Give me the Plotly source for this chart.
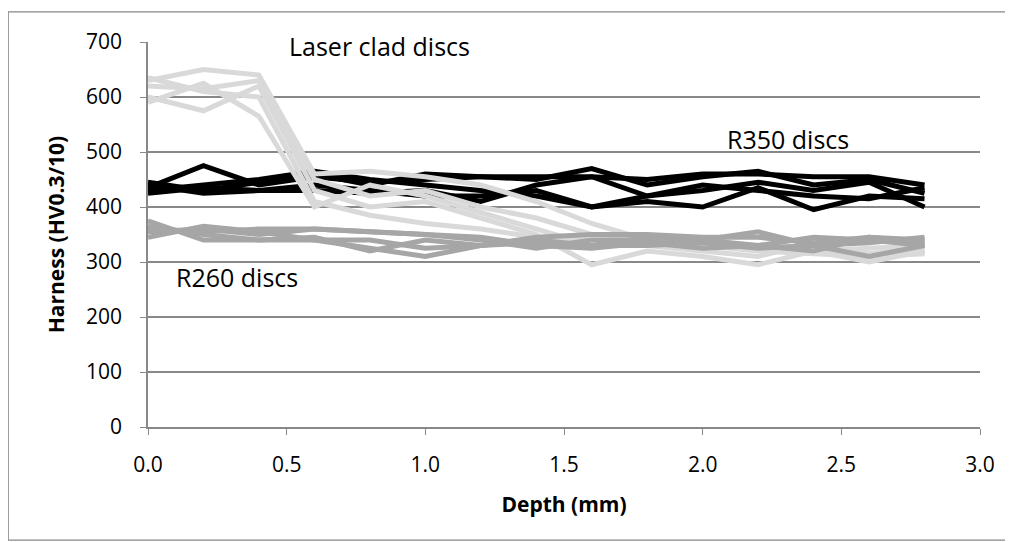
import plotly.graph_objects as go

depth = [0.0, 0.2, 0.4, 0.6, 0.8, 1.0, 1.2, 1.4, 1.6, 1.8, 2.0, 2.2, 2.4, 2.6, 2.8]

r350_1 = [445, 430, 445, 460, 440, 460, 455, 450, 470, 440, 455, 465, 440, 450, 425]
r350_2 = [435, 475, 440, 455, 445, 450, 455, 455, 455, 450, 460, 460, 455, 455, 440]
r350_3 = [430, 440, 450, 465, 450, 440, 430, 420, 400, 410, 400, 435, 395, 420, 415]
r350_4 = [440, 425, 430, 430, 425, 430, 410, 440, 455, 420, 430, 445, 430, 445, 400]
r350_5 = [425, 435, 430, 440, 430, 420, 420, 430, 400, 420, 440, 430, 420, 415, 435]

laser_1 = [630, 650, 640, 460, 465, 455, 440, 410, 370, 340, 330, 320, 315, 310, 320]
laser_2 = [620, 615, 630, 450, 420, 430, 400, 380, 350, 345, 335, 330, 320, 325, 330]
laser_3 = [600, 575, 620, 430, 400, 410, 380, 350, 295, 320, 310, 295, 320, 300, 320]
laser_4 = [635, 610, 600, 410, 385, 370, 360, 345, 340, 335, 330, 325, 330, 315, 325]
laser_5 = [590, 625, 565, 400, 440, 420, 390, 360, 330, 330, 320, 310, 335, 310, 315]

r260_1 = [375, 340, 340, 345, 320, 340, 330, 340, 330, 345, 340, 355, 330, 335, 345]
r260_2 = [355, 360, 350, 360, 355, 350, 340, 325, 340, 340, 340, 330, 345, 340, 330]
r260_3 = [345, 365, 355, 340, 325, 310, 330, 345, 350, 350, 345, 345, 335, 345, 340]
r260_4 = [365, 350, 340, 340, 340, 325, 330, 335, 330, 330, 335, 325, 330, 310, 330]
r260_5 = [360, 355, 360, 360, 355, 350, 345, 330, 325, 335, 325, 330, 320, 345, 335]

x_ticks = [0, 0.5, 1.0, 1.5, 2.0, 2.5, 3.0]
x_tick_labels = ["0.0", "0.5", "1.0", "1.5", "2.0", "2.5", "3.0"]
y_ticks = [0, 100, 200, 300, 400, 500, 600, 700]

groups = [
    ([r350_1, r350_2, r350_3, r350_4, r350_5], "#000000"),
    ([laser_1, laser_2, laser_3, laser_4, laser_5], "#D9D9D9"),
    ([r260_1, r260_2, r260_3, r260_4, r260_5], "#A6A6A6"),
]

FONT = "Open Sans"
fig = go.Figure()
for series, color in groups:
    for s in series:
        fig.add_trace(go.Scatter(x=depth, y=s, mode="lines",
                                 line=dict(color=color, width=5),
                                 hoverinfo="skip", showlegend=False))

fig.update_layout(
    width=1005, height=534,
    margin=dict(l=140, r=33, t=34, b=115),
    paper_bgcolor="white", plot_bgcolor="white",
    font=dict(family=FONT, size=21, color="black"),
    showlegend=False,
    xaxis=dict(range=[0, 3.0], tickvals=x_ticks, ticktext=x_tick_labels,
               showgrid=False, zeroline=False, showline=True, linecolor="#888888",
               linewidth=1.5, ticks="outside", ticklen=6, tickcolor="#888888",
               ticklabelstandoff=12,
               title=dict(text="<b>Depth (mm)</b>", font=dict(size=21), standoff=20)),
    yaxis=dict(range=[0, 700], tickvals=y_ticks,
               showgrid=True, gridcolor="#888888", gridwidth=1.5, zeroline=False,
               showline=True, linecolor="#888888", linewidth=1.5,
               ticks="outside", ticklen=6, tickcolor="#888888", ticklabelstandoff=14,
               title=dict(text="<b>Harness (HV0.3/10)</b>", font=dict(size=21), standoff=16)),
    shapes=[dict(type="rect", xref="paper", yref="paper",
                 x0=-0.168, x1=1.031, y0=-0.294, y1=1.078,
                 line=dict(color="#888888", width=1.2), fillcolor="rgba(0,0,0,0)")],
    annotations=[
        dict(x=0.167, y=0.99, xref="paper", yref="paper", text="Laser clad discs",
             showarrow=False, xanchor="left", yanchor="middle", font=dict(size=25)),
        dict(x=0.693, y=0.747, xref="paper", yref="paper", text="R350 discs",
             showarrow=False, xanchor="left", yanchor="middle", font=dict(size=25)),
        dict(x=0.031, y=0.39, xref="paper", yref="paper", text="R260 discs",
             showarrow=False, xanchor="left", yanchor="middle", font=dict(size=25)),
    ],
)

fig.write_html("out.html")
